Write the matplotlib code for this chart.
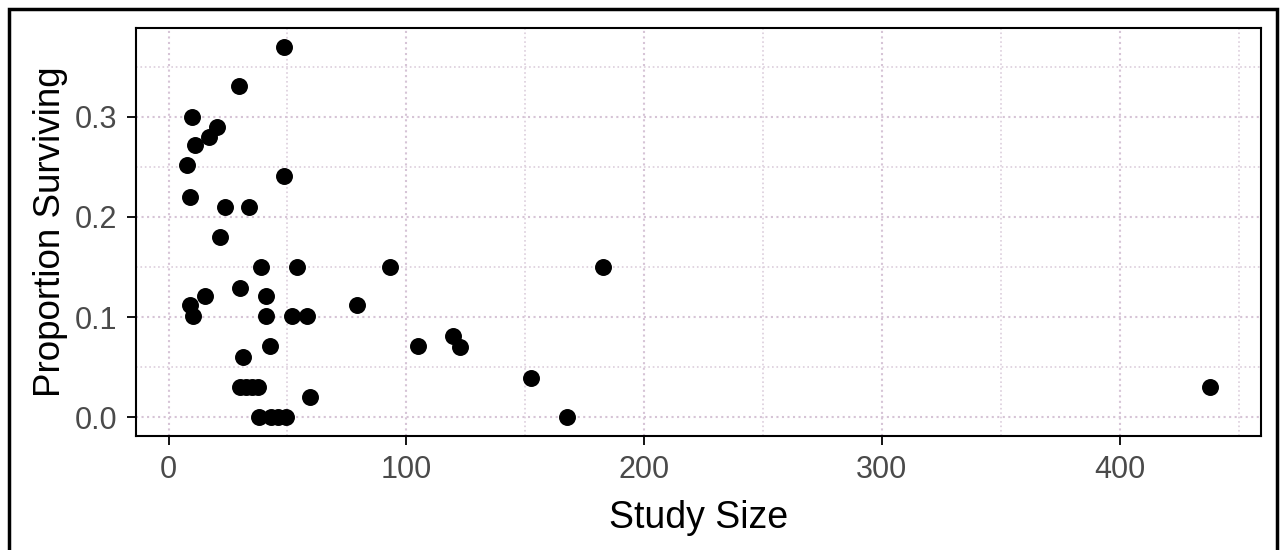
import matplotlib
matplotlib.use("Agg")
from matplotlib import pyplot as plt
from matplotlib.patches import Rectangle
from matplotlib.ticker import MultipleLocator, FormatStrFormatter

study_size = [48.5, 29.5, 9.8, 20.4, 17.1, 11.0, 7.7, 48.5, 9.1, 23.9,
              33.7, 21.8, 38.9, 54.1, 93.0, 30.2, 15.2, 41.0, 8.8, 79.1,
              10.1, 41.0, 52.0, 58.3, 42.6, 105.1, 31.3, 30.0, 32.5, 35.0,
              37.5, 59.5, 38.2, 43.0, 46.0, 49.5, 182.6, 119.7, 122.5, 152.4,
              167.4, 438.0]
prop_surviving = [0.370, 0.331, 0.300, 0.290, 0.280, 0.272, 0.252, 0.241, 0.220, 0.210,
                  0.210, 0.180, 0.150, 0.150, 0.150, 0.129, 0.121, 0.121, 0.112, 0.112,
                  0.101, 0.101, 0.101, 0.101, 0.071, 0.071, 0.060, 0.030, 0.030, 0.030,
                  0.030, 0.020, 0.000, 0.000, 0.000, 0.000, 0.150, 0.081, 0.070, 0.039,
                  0.000, 0.030]

plt.rcParams['font.family'] = ['Liberation Sans', 'DejaVu Sans']

W, H = 1283, 550
fig = plt.figure(figsize=(W / 100, H / 100), dpi=100)
# axes box in pixels: left 136, right 1261, top 28, bottom 436
ax = fig.add_axes([136 / W, 1 - 436 / H, (1261 - 136) / W, (436 - 28) / H])

ax.scatter(study_size, prop_surviving, s=125, color='black', zorder=3)

# ggplot-style 5% expansion
ax.set_xlim(-13.7, 459.4)
ax.set_ylim(-0.0185, 0.3885)
ax.xaxis.set_major_locator(MultipleLocator(100))
ax.xaxis.set_minor_locator(MultipleLocator(50))
ax.yaxis.set_major_locator(MultipleLocator(0.1))
ax.yaxis.set_minor_locator(MultipleLocator(0.05))
ax.yaxis.set_major_formatter(FormatStrFormatter('%.1f'))

ax.grid(which='major', color='#d6c4d6', linestyle=':', linewidth=1.5)
ax.grid(which='minor', color='#dccedc', linestyle=':', linewidth=1.2)
ax.set_axisbelow(True)

for sp in ax.spines.values():
    sp.set_linewidth(1.5)
    sp.set_color('black')

ax.tick_params(which='major', length=6.5, width=1.3, colors='black',
               labelsize=22, labelcolor='#4a4a4a', pad=7)
ax.tick_params(which='minor', length=0)

ax.set_xlabel('Study Size', fontsize=27, labelpad=11)
ax.set_ylabel('Proportion Surviving', fontsize=26.5, labelpad=5)

fig.patches.append(Rectangle((9 / W, -0.05), 1268 / W, 1.05 - 9 / H,
                             transform=fig.transFigure, fill=False,
                             edgecolor='black', linewidth=2.5))

fig.savefig('out.png', dpi=100)
